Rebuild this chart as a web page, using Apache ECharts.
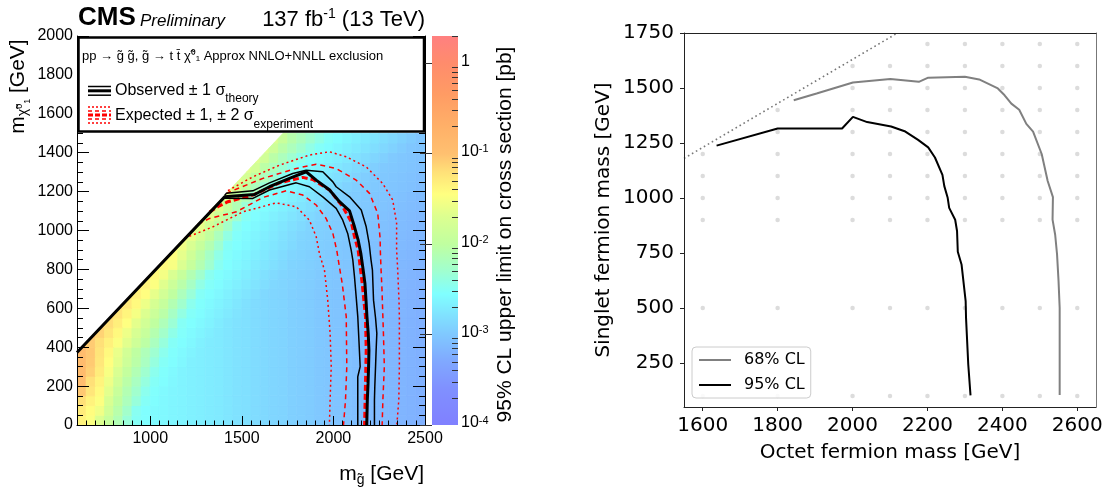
<!DOCTYPE html>
<html>
<head>
<meta charset="utf-8">
<script src="https://cdn.jsdelivr.net/npm/echarts@6/dist/echarts.min.js"></script>
<style>html,body{margin:0;padding:0;background:#fff}#c{width:1112px;height:488px}</style>
</head>
<body>
<div id="c"></div>
<script>
// ================= DATA =================
// Left panel: gluino / neutralino mass bins of the colour map (GeV)
const gluinoEdges = [600,650,700,750,800,850,900,950,1000,1050,1100,1150,1200,1250,1300,1350,1400,1450,1500,1550,1600,1650,1700,1750,1800,1850,1900,1950,2000,2050,2100,2150,2200,2250,2300,2350,2400,2450,2500];
const neutralinoEdges = [0,50,100,150,200,250,300,350,400,450,500,550,600,650,700,750,800,850,900,950,1000,1050,1100,1150,1200,1250,1300,1350,1400,1450,1500];
// log10 of the 95% CL upper limit [pb]; one row per neutralino bin (bottom to top).
// Each row lists the cells that lie below the kinematic edge; it ends at the last gluino bin (2450-2500).
const limitRows = [
 [-1.35,-1.48,-1.7,-1.92,-2.13,-2.35,-2.5,-2.55,-2.58,-2.6,-2.62,-2.64,-2.66,-2.68,-2.7,-2.72,-2.75,-2.78,-2.8,-2.83,-2.86,-2.88,-2.9,-2.93,-2.95,-2.97,-3.0,-3.02,-3.04,-3.06,-3.08,-3.1,-3.12,-3.14,-3.16,-3.18,-3.2,-3.22],
 [-1.3,-1.43,-1.56,-1.82,-2.07,-2.27,-2.48,-2.55,-2.58,-2.6,-2.62,-2.64,-2.66,-2.68,-2.7,-2.72,-2.75,-2.78,-2.8,-2.83,-2.86,-2.88,-2.9,-2.93,-2.95,-2.97,-3.0,-3.02,-3.04,-3.06,-3.08,-3.1,-3.12,-3.14,-3.16,-3.18,-3.2,-3.22],
 [-1.2,-1.35,-1.47,-1.74,-2.0,-2.18,-2.36,-2.51,-2.56,-2.6,-2.62,-2.64,-2.66,-2.68,-2.7,-2.72,-2.75,-2.78,-2.8,-2.83,-2.86,-2.88,-2.9,-2.93,-2.95,-2.97,-3.0,-3.02,-3.04,-3.06,-3.08,-3.1,-3.12,-3.14,-3.16,-3.18,-3.2,-3.22],
 [-1.05,-1.25,-1.41,-1.65,-1.91,-2.12,-2.29,-2.46,-2.54,-2.59,-2.62,-2.64,-2.66,-2.68,-2.7,-2.72,-2.75,-2.78,-2.8,-2.83,-2.86,-2.88,-2.9,-2.93,-2.95,-2.97,-3.0,-3.02,-3.04,-3.06,-3.08,-3.1,-3.12,-3.14,-3.16,-3.18,-3.2,-3.22],
 [-0.95,-1.2,-1.36,-1.57,-1.82,-2.05,-2.21,-2.38,-2.51,-2.56,-2.61,-2.64,-2.66,-2.68,-2.7,-2.72,-2.75,-2.78,-2.8,-2.83,-2.86,-2.88,-2.9,-2.93,-2.95,-2.97,-3.0,-3.02,-3.04,-3.06,-3.08,-3.1,-3.12,-3.14,-3.16,-3.18,-3.2,-3.22],
 [-0.9,-1.1,-1.3,-1.5,-1.73,-1.96,-2.13,-2.3,-2.46,-2.54,-2.59,-2.64,-2.66,-2.68,-2.7,-2.72,-2.75,-2.78,-2.8,-2.83,-2.86,-2.88,-2.9,-2.93,-2.95,-2.97,-3.0,-3.02,-3.04,-3.06,-3.08,-3.1,-3.12,-3.14,-3.16,-3.18,-3.2,-3.22],
 [-0.9,-1.06,-1.26,-1.44,-1.64,-1.86,-2.05,-2.21,-2.38,-2.51,-2.56,-2.61,-2.66,-2.68,-2.7,-2.72,-2.75,-2.78,-2.8,-2.83,-2.86,-2.88,-2.9,-2.93,-2.95,-2.97,-3.0,-3.02,-3.04,-3.06,-3.08,-3.1,-3.12,-3.14,-3.16,-3.18,-3.2,-3.22],
 [-0.92,-1.05,-1.23,-1.4,-1.6,-1.81,-2.01,-2.16,-2.31,-2.46,-2.54,-2.59,-2.64,-2.68,-2.7,-2.72,-2.75,-2.78,-2.8,-2.83,-2.86,-2.88,-2.9,-2.93,-2.95,-2.97,-3.0,-3.02,-3.04,-3.06,-3.08,-3.1,-3.12,-3.14,-3.16,-3.18,-3.2,-3.22],
 [-0.95,-1.07,-1.2,-1.34,-1.48,-1.66,-1.85,-2.03,-2.2,-2.37,-2.51,-2.56,-2.61,-2.66,-2.7,-2.72,-2.75,-2.78,-2.8,-2.83,-2.86,-2.88,-2.9,-2.93,-2.95,-2.97,-3.0,-3.02,-3.04,-3.06,-3.08,-3.1,-3.12,-3.14,-3.16,-3.18,-3.2,-3.22],
 [-1.02,-1.12,-1.26,-1.4,-1.57,-1.75,-1.93,-2.1,-2.27,-2.43,-2.53,-2.58,-2.63,-2.68,-2.72,-2.75,-2.78,-2.8,-2.83,-2.86,-2.88,-2.9,-2.93,-2.95,-2.97,-3.0,-3.02,-3.04,-3.06,-3.08,-3.1,-3.12,-3.14,-3.16,-3.18,-3.2,-3.22],
 [-1.1,-1.19,-1.32,-1.46,-1.64,-1.82,-2.0,-2.16,-2.33,-2.5,-2.55,-2.6,-2.65,-2.7,-2.75,-2.78,-2.8,-2.83,-2.86,-2.88,-2.9,-2.93,-2.95,-2.97,-3.0,-3.02,-3.04,-3.06,-3.08,-3.1,-3.12,-3.14,-3.16,-3.18,-3.2,-3.22],
 [-1.15,-1.24,-1.37,-1.52,-1.7,-1.88,-2.05,-2.23,-2.4,-2.52,-2.57,-2.62,-2.67,-2.72,-2.77,-2.8,-2.83,-2.86,-2.88,-2.9,-2.93,-2.95,-2.97,-3.0,-3.02,-3.04,-3.06,-3.08,-3.1,-3.12,-3.14,-3.16,-3.18,-3.2,-3.22],
 [-1.2,-1.28,-1.41,-1.58,-1.76,-1.94,-2.12,-2.29,-2.46,-2.54,-2.59,-2.64,-2.69,-2.74,-2.79,-2.83,-2.86,-2.88,-2.9,-2.93,-2.95,-2.97,-3.0,-3.02,-3.04,-3.06,-3.08,-3.1,-3.12,-3.14,-3.16,-3.18,-3.2,-3.22],
 [-1.25,-1.33,-1.44,-1.62,-1.81,-2.0,-2.18,-2.35,-2.51,-2.56,-2.61,-2.66,-2.71,-2.76,-2.81,-2.86,-2.88,-2.9,-2.93,-2.95,-2.97,-3.0,-3.02,-3.04,-3.06,-3.08,-3.1,-3.12,-3.14,-3.16,-3.18,-3.2,-3.22],
 [-1.3,-1.36,-1.47,-1.67,-1.87,-2.06,-2.23,-2.41,-2.52,-2.57,-2.62,-2.67,-2.72,-2.77,-2.82,-2.87,-2.89,-2.92,-2.94,-2.96,-2.99,-3.01,-3.03,-3.05,-3.07,-3.09,-3.11,-3.13,-3.15,-3.17,-3.19,-3.21],
 [-1.34,-1.4,-1.53,-1.73,-1.93,-2.12,-2.29,-2.47,-2.54,-2.59,-2.64,-2.69,-2.74,-2.79,-2.84,-2.88,-2.91,-2.93,-2.95,-2.98,-3.0,-3.02,-3.04,-3.06,-3.08,-3.1,-3.12,-3.14,-3.16,-3.18,-3.2],
 [-1.39,-1.42,-1.5,-1.71,-1.92,-2.11,-2.3,-2.48,-2.55,-2.6,-2.65,-2.7,-2.75,-2.8,-2.85,-2.9,-2.92,-2.94,-2.97,-2.99,-3.01,-3.03,-3.05,-3.07,-3.09,-3.11,-3.13,-3.15,-3.17,-3.19],
 [-1.42,-1.45,-1.63,-1.84,-2.05,-2.24,-2.42,-2.53,-2.58,-2.63,-2.68,-2.73,-2.78,-2.83,-2.88,-2.91,-2.93,-2.96,-2.98,-3.0,-3.02,-3.04,-3.06,-3.08,-3.1,-3.12,-3.14,-3.16,-3.18],
 [-1.45,-1.55,-1.73,-1.92,-2.11,-2.31,-2.5,-2.55,-2.6,-2.65,-2.7,-2.75,-2.8,-2.85,-2.9,-2.92,-2.95,-2.97,-2.99,-3.01,-3.03,-3.05,-3.07,-3.09,-3.11,-3.13,-3.15,-3.17],
 [-1.48,-1.59,-1.78,-1.97,-2.18,-2.4,-2.53,-2.58,-2.63,-2.68,-2.73,-2.78,-2.83,-2.88,-2.91,-2.94,-2.96,-2.98,-3.0,-3.02,-3.04,-3.06,-3.08,-3.1,-3.12,-3.14,-3.16],
 [-1.5,-1.62,-1.82,-2.03,-2.25,-2.48,-2.55,-2.6,-2.65,-2.7,-2.75,-2.8,-2.85,-2.9,-2.93,-2.95,-2.97,-2.99,-3.01,-3.03,-3.05,-3.07,-3.09,-3.11,-3.13,-3.15],
 [-1.54,-1.66,-1.87,-2.08,-2.3,-2.5,-2.56,-2.61,-2.66,-2.71,-2.76,-2.81,-2.86,-2.91,-2.94,-2.96,-2.98,-3.0,-3.02,-3.04,-3.06,-3.08,-3.1,-3.12,-3.14],
 [-1.56,-1.69,-1.92,-2.13,-2.33,-2.51,-2.56,-2.61,-2.66,-2.71,-2.76,-2.81,-2.86,-2.91,-2.94,-2.96,-2.98,-3.0,-3.02,-3.04,-3.06,-3.08,-3.1,-3.12],
 [-1.59,-1.73,-1.97,-2.16,-2.35,-2.51,-2.56,-2.61,-2.66,-2.71,-2.76,-2.81,-2.86,-2.91,-2.95,-2.97,-2.99,-3.01,-3.03,-3.05,-3.07,-3.09,-3.11],
 [-1.62,-1.76,-2.01,-2.18,-2.35,-2.5,-2.56,-2.61,-2.66,-2.71,-2.76,-2.81,-2.86,-2.91,-2.95,-2.97,-2.99,-3.01,-3.03,-3.05,-3.07,-3.09],
 [-1.65,-1.79,-2.02,-2.18,-2.33,-2.48,-2.55,-2.6,-2.65,-2.7,-2.75,-2.8,-2.85,-2.9,-2.95,-2.98,-3.0,-3.02,-3.04,-3.06,-3.08],
 [-1.67,-1.81,-2.04,-2.18,-2.32,-2.46,-2.54,-2.59,-2.64,-2.69,-2.74,-2.79,-2.84,-2.89,-2.94,-2.98,-3.0,-3.02,-3.04,-3.06],
 [-1.69,-1.83,-2.05,-2.18,-2.31,-2.44,-2.53,-2.58,-2.63,-2.68,-2.73,-2.78,-2.83,-2.88,-2.93,-2.98,-3.01,-3.03,-3.05],
 [-1.7,-1.86,-2.06,-2.18,-2.3,-2.42,-2.52,-2.57,-2.62,-2.67,-2.72,-2.77,-2.82,-2.87,-2.92,-2.97,-3.01,-3.03],
 [-1.71,-1.9,-2.08,-2.19,-2.31,-2.42,-2.52,-2.57,-2.62,-2.67,-2.72,-2.77,-2.82,-2.87,-2.92,-2.97,-3.02]
];
// kinematic edge of the scanned region (gluino, neutralino)
const kinematicEdge = [[600,375],[1725,1500]];

// exclusion contours (gluino mass, neutralino mass)
const observedCentral = [[600,373],[1406,1173],[1569,1185],[1651,1225],[1760,1268],[1851,1302],[1906,1259],[1979,1208],[2033,1148],[2088,1101],[2115,1019],[2135,951],[2150,880],[2162,800],[2172,728],[2178,640],[2183,557],[2190,470],[2194,385],[2192,300],[2189,214],[2185,128],[2183,43],[2182,0]];
const observedPlus = [[1406,1180],[1415,1191],[1560,1204],[1651,1245],[1778,1293],[1851,1310],[1942,1302],[1997,1250],[2015,1225],[2088,1173],[2152,1105],[2179,1019],[2195,934],[2205,850],[2213,796],[2219,642],[2230,550],[2237,471],[2233,380],[2230,300],[2226,200],[2224,128],[2224,0]];
const observedMinus = [[1406,1166],[1560,1165],[1651,1208],[1797,1245],[1869,1225],[1942,1173],[2015,1114],[2051,1053],[2078,985],[2097,899],[2106,848],[2115,762],[2125,650],[2133,557],[2140,420],[2146,300],[2133,248],[2133,128],[2133,0]];
const expectedCentral = [[1324,1095],[1369,1122],[1424,1148],[1560,1182],[1706,1245],[1833,1273],[1887,1262],[1979,1208],[2051,1122],[2097,1045],[2115,968],[2135,899],[2157,728],[2175,557],[2179,385],[2175,214],[2170,0]];
const expectedPlus1 = [[1415,1190],[1433,1199],[1615,1268],[1797,1319],[1906,1341],[2015,1319],[2124,1259],[2197,1191],[2242,1088],[2255,960],[2256,899],[2260,800],[2265,700],[2273,471],[2278,300],[2270,128],[2266,0]];
const expectedMinus1 = [[1260,1032],[1324,1062],[1470,1096],[1615,1170],[1742,1204],[1833,1182],[1906,1131],[1960,1062],[1997,985],[2018,899],[2035,800],[2048,728],[2070,557],[2073,300],[2066,128],[2055,0]];
const expectedPlus2 = [[1424,1205],[1560,1276],[1706,1336],[1869,1388],[1978,1405],[2070,1379],[2179,1327],[2269,1242],[2324,1156],[2345,1037],[2345,900],[2351,796],[2358,640],[2360,557],[2360,300],[2357,128],[2346,0]];
const expectedMinus2 = [[1188,960],[1342,1019],[1506,1096],[1688,1142],[1797,1122],[1869,1053],[1906,968],[1925,875],[1951,797],[1969,642],[1982,471],[1988,300],[1982,128],[1978,0]];

// axis ticks
const gluinoMajorTicks = [1000,1500,2000,2500];
const colorbarMajorTicks = [0.0001,0.001,0.01,0.1,1];
const colorbarMinorTicks = [0.0002,0.0003,0.0004,0.0005,0.0006,0.0007,0.0008,0.0009,0.002,0.003,0.004,0.005,0.006,0.007,0.008,0.009,0.02,0.03,0.04,0.05,0.06,0.07,0.08,0.09,0.2,0.3,0.4,0.5,0.6,0.7,0.8,0.9,2];

// Right panel
const octetTicks = [1600,1800,2000,2200,2400,2600];
const singletTicks = [250,500,750,1000,1250,1500,1750];
const cl68 = [[1843,1444],[1904,1475],[2001,1525],[2101,1541],[2177,1528],[2202,1547],[2300,1551],[2338,1539],[2388,1498],[2406,1467],[2424,1429],[2445,1401],[2464,1337],[2482,1302],[2505,1200],[2521,1077],[2535,1004],[2534,902],[2541,833],[2546,744],[2550,622],[2553,500],[2553,105]];
const cl95 = [[1637,1238],[1800,1316],[1972,1316],[2001,1369],[2039,1345],[2103,1325],[2141,1302],[2175,1264],[2202,1230],[2220,1184],[2240,1105],[2245,1054],[2254,1001],[2258,955],[2274,901],[2279,850],[2281,756],[2291,698],[2302,531],[2303,455],[2309,242],[2315,103]];
const scanRows = [
  {singlet:1700, octet:[2200,2300,2400,2500,2600]},
  {singlet:1600, octet:[2000,2100,2200,2300,2400,2500,2600]},
  {singlet:1500, octet:[2000,2100,2200,2300,2400,2500,2600]},
  {singlet:1400, octet:[1800,2000,2100,2200,2300,2400,2500,2600]},
  {singlet:1300, octet:[1800,2000,2100,2200,2300,2400,2500,2600]},
  {singlet:1200, octet:[1600,1800,2000,2100,2200,2300,2400,2500,2600]},
  {singlet:1100, octet:[1600,1800,2000,2100,2200,2300,2400,2500,2600]},
  {singlet:1000, octet:[1600,1800,2000,2100,2200,2300,2400,2500,2600]},
  {singlet:900, octet:[1600,1800,2000,2100,2200,2300,2400,2500,2600]},
  {singlet:500, octet:[1600,1800,2000,2100,2200,2300,2400,2500,2600]},
  {singlet:100, octet:[1600,1800,2000,2100,2200,2300,2400,2500,2600]}
];
const kinematicLine = [[1550,1180],[2120,1750]];

// ================= STYLE =================
const ROOT = '"Liberation Sans", Arial, sans-serif';
const MPL = '"DejaVu Sans", sans-serif';
const paletteStops = [
  [-4.0,'#8080ff'],[-3.6,'#8090ff'],[-3.3,'#80a8ff'],[-3.0,'#80c8ff'],[-2.8,'#80e0ff'],
  [-2.55,'#80ffff'],[-2.3,'#a0ffd0'],[-2.0,'#c0ffa0'],[-1.7,'#dcff90'],[-1.45,'#ffff80'],
  [-1.2,'#ffe078'],[-1.0,'#ffc070'],[-0.7,'#ffb068'],[-0.35,'#ff9c64'],[0,'#ff8c6c'],[0.302,'#ff8080']
];
const LOG_MIN = -4, LOG_MAX = Math.log10(2);
function hex2rgb(h){return [parseInt(h.substr(1,2),16),parseInt(h.substr(3,2),16),parseInt(h.substr(5,2),16)];}
function colorAt(v){
  if (v <= paletteStops[0][0]) return paletteStops[0][1];
  for (let k=1;k<paletteStops.length;k++){
    if (v <= paletteStops[k][0]){
      const a=paletteStops[k-1], b=paletteStops[k];
      const t=(v-a[0])/(b[0]-a[0]);
      const ca=hex2rgb(a[1]), cb=hex2rgb(b[1]);
      return 'rgb('+ca.map((c,i)=>Math.round(c+(cb[i]-c)*t)).join(',')+')';
    }
  }
  return paletteStops[paletteStops.length-1][1];
}
const plain = v => String(v);

// build heat cells
const nCols = gluinoEdges.length-1;
const heatCells = [];
limitRows.forEach((row,j)=>{
  const off = nCols - row.length;
  row.forEach((v,k)=>{
    const i = off+k;
    heatCells.push([gluinoEdges[i],gluinoEdges[i+1],neutralinoEdges[j],neutralinoEdges[j+1],v]);
  });
});

function clipBelowEdge(pts){
  const [[ax,ay],[bx,by]] = kinematicEdge;
  const g = p => (by-ay)*(p[0]-ax) - (bx-ax)*(p[1]-ay);
  const out=[];
  for (let i=0;i<pts.length;i++){
    const P=pts[i], Q=pts[(i+1)%pts.length];
    const fp=g(P), fq=g(Q);
    if (fp>=0) out.push(P);
    if ((fp>=0)!==(fq>=0)){
      const t=fp/(fp-fq);
      out.push([P[0]+t*(Q[0]-P[0]), P[1]+t*(Q[1]-P[1])]);
    }
  }
  return out;
}

const scanPoints = [];
scanRows.forEach(r=>r.octet.forEach(o=>scanPoints.push([o,r.singlet])));

const redLine = (data, width, type) => ({
  type:'line', data, xAxisIndex:0, yAxisIndex:0, symbol:'none', silent:true, clip:true, z:3,
  lineStyle:{color:'#ff0000', width, type}
});
const blackLine = (data, width) => ({
  type:'line', data, xAxisIndex:0, yAxisIndex:0, symbol:'none', silent:true, clip:true, z:4,
  lineStyle:{color:'#000000', width}
});

const cbStops = paletteStops.slice().reverse().map(s=>({
  offset: Math.min(1, Math.max(0, (LOG_MAX - s[0])/(LOG_MAX-LOG_MIN))), color: s[1]
}));

// rich-text token helper: all tokens aligned to the top, shifted down by padding
const tok = (size, pad) => ({fontSize:size, lineHeight:size, verticalAlign:'top', padding:[pad,0,0,0], fontFamily:ROOT, color:'#000'});

const chart = echarts.init(document.getElementById('c'), null, {renderer:'canvas', width:1112, height:488});
const option = {
  animation:false,
  backgroundColor:'#ffffff',
  grid:[
    {left:77, top:36, width:348, height:389, containLabel:false, outerBoundsMode:'none'},
    {left:432, top:36, width:26, height:389, containLabel:false, outerBoundsMode:'none'},
    {left:684, top:33, width:412, height:374, containLabel:false, outerBoundsMode:'none'}
  ],
  xAxis:[
    {gridIndex:0, type:'value', min:600, max:2500, position:'bottom', z:10,
     axisLine:{show:true,onZero:false,lineStyle:{color:'#000',width:1}},
     axisTick:{show:true,inside:true,length:9,customValues:gluinoMajorTicks,lineStyle:{color:'#000'}},
     axisLabel:{show:true,customValues:gluinoMajorTicks,formatter:plain,margin:6,color:'#000',fontSize:16,fontFamily:ROOT},
     splitLine:{show:false}},
    {gridIndex:0, type:'value', min:600, max:2500, interval:50, position:'bottom', z:10,
     axisLine:{show:false,onZero:false}, axisTick:{show:true,inside:true,length:4.5,lineStyle:{color:'#000'}},
     axisLabel:{show:false}, splitLine:{show:false}},
    {gridIndex:1, type:'value', min:0, max:1, show:false},
    {gridIndex:2, type:'value', min:1550, max:2650, position:'bottom', z:10,
     axisLine:{show:true,onZero:false,lineStyle:{color:'#222',width:1}},
     axisTick:{show:true,inside:false,length:4,customValues:octetTicks,lineStyle:{color:'#222'}},
     axisLabel:{show:true,customValues:octetTicks,formatter:plain,margin:9,color:'#000',fontSize:20,fontFamily:MPL},
     splitLine:{show:false}},
    {gridIndex:2, type:'value', min:1550, max:2650, position:'top', z:10,
     axisLine:{show:true,onZero:false,lineStyle:{color:'#222',width:1}},
     axisTick:{show:false}, axisLabel:{show:false}, splitLine:{show:false}}
  ],
  yAxis:[
    {gridIndex:0, type:'value', min:0, max:2000, interval:200, position:'left', z:10,
     axisLine:{show:true,onZero:false,lineStyle:{color:'#000',width:1}},
     axisTick:{show:true,inside:true,length:12,lineStyle:{color:'#000'}},
     minorTick:{show:true,splitNumber:4,length:6,lineStyle:{color:'#000'}},
     axisLabel:{show:true,formatter:plain,margin:4,color:'#000',fontSize:16,fontFamily:ROOT},
     splitLine:{show:false}, minorSplitLine:{show:false}},
    {gridIndex:0, type:'value', min:0, max:2000, interval:200, position:'right', z:10,
     axisLine:{show:true,onZero:false,lineStyle:{color:'#000',width:1}},
     axisTick:{show:true,inside:true,length:12,lineStyle:{color:'#000'}},
     minorTick:{show:true,splitNumber:4,length:6,lineStyle:{color:'#000'}},
     axisLabel:{show:false}, splitLine:{show:false}, minorSplitLine:{show:false}},
    {gridIndex:1, type:'log', min:0.0001, max:2, position:'right', z:10,
     axisLine:{show:false},
     axisTick:{show:true,inside:true,length:12,customValues:colorbarMajorTicks,lineStyle:{color:'#333'}},
     axisLabel:{show:true,customValues:colorbarMajorTicks,margin:3,
       formatter:function(v){const e=Math.round(Math.log10(v)); return e===0?'{b|1}':'{b|10}{s|'+e+'}';},
       rich:{b:{fontSize:16,lineHeight:20,verticalAlign:'top',fontFamily:ROOT,color:'#000'},
             s:{fontSize:11,lineHeight:10,verticalAlign:'top',fontFamily:ROOT,color:'#000'}}},
     splitLine:{show:false}},
    {gridIndex:1, type:'log', min:0.0001, max:2, position:'right', z:10,
     axisLine:{show:false},
     axisTick:{show:true,inside:true,length:6,customValues:colorbarMinorTicks,lineStyle:{color:'#333'}},
     axisLabel:{show:false}, splitLine:{show:false}},
    {gridIndex:2, type:'value', min:50, max:1750, position:'left', z:10,
     axisLine:{show:true,onZero:false,lineStyle:{color:'#222',width:1}},
     axisTick:{show:true,inside:false,length:4,customValues:singletTicks,lineStyle:{color:'#222'}},
     axisLabel:{show:true,customValues:singletTicks,formatter:plain,margin:10,color:'#000',fontSize:20,fontFamily:MPL},
     splitLine:{show:false}},
    {gridIndex:2, type:'value', min:50, max:1750, position:'right', z:10,
     axisLine:{show:true,onZero:false,lineStyle:{color:'#777',width:1}},
     axisTick:{show:false}, axisLabel:{show:false}, splitLine:{show:false}}
  ],
  legend:{
    show:true, data:['68% CL','95% CL'], orient:'vertical', left:692, top:347,
    padding:[4,6,4,7], itemGap:7, itemWidth:32, itemHeight:2, icon:'rect', selectedMode:false,
    textStyle:{fontFamily:MPL,fontSize:16,color:'#000',lineHeight:18,padding:[0,0,0,8]},
    backgroundColor:'rgba(255,255,255,0.85)', borderColor:'#cccccc', borderWidth:1, borderRadius:4
  },
  series:[
    {type:'custom', xAxisIndex:0, yAxisIndex:0, data:heatCells, silent:true, clip:true, z:1,
     encode:{x:[0,1], y:[2,3]},
     renderItem:function(params, api){
       const x0=api.value(0), x1=api.value(1), y0=api.value(2), y1=api.value(3), v=api.value(4);
       const poly = clipBelowEdge([[x0,y0],[x1,y0],[x1,y1],[x0,y1]]);
       if (poly.length<3) return {type:'group', children:[]};
       const c = colorAt(v);
       return {type:'polygon', shape:{points:poly.map(p=>api.coord(p))}, style:{fill:c, stroke:c, lineWidth:0.8}};
     }},
    redLine(expectedMinus2, 1.5, [2,3]),
    redLine(expectedPlus2, 1.5, [2,3]),
    redLine(expectedMinus1, 1.5, [5,4]),
    redLine(expectedPlus1, 1.5, [5,4]),
    redLine(expectedCentral, 3, [6,3]),
    blackLine(observedMinus, 1.5),
    blackLine(observedPlus, 1.5),
    blackLine(observedCentral, 3),
    {type:'custom', xAxisIndex:2, yAxisIndex:2, data:[[0,0.0001,1,2]], silent:true, z:1,
     encode:{x:[0,2], y:[1,3]},
     renderItem:function(params, api){
       const p0=api.coord([api.value(0),api.value(1)]);
       const p1=api.coord([api.value(2),api.value(3)]);
       return {type:'rect', shape:{x:p0[0], y:p1[1], width:p1[0]-p0[0], height:p0[1]-p1[1]},
               style:{fill:new echarts.graphic.LinearGradient(0,0,0,1,cbStops)}};
     }},
    {type:'scatter', xAxisIndex:3, yAxisIndex:4, data:scanPoints, symbolSize:4.5, silent:true, z:2,
     itemStyle:{color:'#d3d3d3'}},
    {type:'line', xAxisIndex:3, yAxisIndex:4, data:kinematicLine, symbol:'none', silent:true, clip:true, z:3,
     lineStyle:{color:'#777777', width:1.6, type:[1.6,3]}},
    {type:'line', name:'68% CL', xAxisIndex:3, yAxisIndex:4, data:cl68, symbol:'none', silent:true, z:4,
     color:'#808080', itemStyle:{color:'#808080'}, lineStyle:{color:'#808080', width:2}},
    {type:'line', name:'95% CL', xAxisIndex:3, yAxisIndex:4, data:cl95, symbol:'none', silent:true, z:4,
     color:'#000000', itemStyle:{color:'#000000'}, lineStyle:{color:'#000000', width:2}}
  ],
  graphic:{elements:[
    // legend box of the left panel
    {type:'rect', z:100, shape:{x:78.5, y:37.5, width:345.5, height:94}, style:{fill:'#ffffff', stroke:'#000', lineWidth:2.5}},
    {type:'text', z:101, x:82, y:56.5, style:{text:'pp \u2192 g\u0303 g\u0303, g\u0303 \u2192 t t\u0304 \u03c7\u0303\u2070\u2081 Approx NNLO+NNLL exclusion', font:'13px '+ROOT, fill:'#000', verticalAlign:'middle', align:'left'}},
    {type:'line', z:101, shape:{x1:88, y1:86.5, x2:111, y2:86.5}, style:{stroke:'#000', lineWidth:1.5}},
    {type:'line', z:101, shape:{x1:88, y1:90.8, x2:111, y2:90.8}, style:{stroke:'#000', lineWidth:3}},
    {type:'line', z:101, shape:{x1:88, y1:95.2, x2:111, y2:95.2}, style:{stroke:'#000', lineWidth:1.5}},
    {type:'line', z:101, shape:{x1:88, y1:107, x2:111, y2:107}, style:{stroke:'#ff0000', lineWidth:1.5, lineDash:[2,2]}},
    {type:'line', z:101, shape:{x1:88, y1:111, x2:111, y2:111}, style:{stroke:'#ff0000', lineWidth:1.5, lineDash:[4,3]}},
    {type:'line', z:101, shape:{x1:88, y1:115, x2:111, y2:115}, style:{stroke:'#ff0000', lineWidth:3, lineDash:[5,2]}},
    {type:'line', z:101, shape:{x1:88, y1:119, x2:111, y2:119}, style:{stroke:'#ff0000', lineWidth:1.5, lineDash:[4,3]}},
    {type:'line', z:101, shape:{x1:88, y1:123, x2:111, y2:123}, style:{stroke:'#ff0000', lineWidth:1.5, lineDash:[2,2]}},
    {type:'text', z:101, x:115, y:82.8, style:{text:'{b|Observed \u00b1 1 \u03c3}{s|theory}', align:'left', verticalAlign:'top',
      rich:{b:tok(16,0), s:tok(12,10)}}},
    {type:'text', z:101, x:115, y:107.3, style:{text:'{b|Expected \u00b1 1, \u00b1 2 \u03c3}{s|experiment}', align:'left', verticalAlign:'top',
      rich:{b:tok(16,0), s:tok(12,11)}}},
    // header
    {type:'text', z:101, x:78, y:17.6, style:{text:'CMS', font:'bold 26px '+ROOT, fill:'#000', align:'left', verticalAlign:'middle'}},
    {type:'text', z:101, x:140, y:21, style:{text:'Preliminary', font:'italic 17px '+ROOT, fill:'#000', align:'left', verticalAlign:'middle'}},
    {type:'text', z:101, x:425, y:4.7, style:{text:'{a|137 fb}{p|-1}{a| (13 TeV)}', align:'right', verticalAlign:'top',
      rich:{a:tok(22,4), p:tok(14,2.5)}}},
    // axis titles, left panel
    {type:'text', z:101, x:8, y:86.5, rotation:Math.PI/2, style:{text:'{b|m}{s|\u03c7\u0303}{u|0}{d|1}{b| [GeV]}', align:'center', verticalAlign:'top',
      rich:{b:tok(21,0), s:tok(14,8.5), u:tok(9,7), d:tok(9,15)}}},
    {type:'text', z:101, x:424, y:463.5, style:{text:'{b|m}{s|g\u0303}{b| [GeV]}', align:'right', verticalAlign:'top',
      rich:{b:tok(21,0), s:tok(14,9.5)}}},
    {type:'text', z:101, x:505, y:234.5, rotation:Math.PI/2, style:{text:'95% CL upper limit on cross section [pb]', font:'21px '+ROOT, fill:'#000', align:'center', verticalAlign:'middle'}},
    // axis titles, right panel
    {type:'text', z:101, x:890, y:453, style:{text:'Octet fermion mass [GeV]', font:'20px '+MPL, fill:'#000', align:'center', verticalAlign:'middle'}},
    {type:'text', z:101, x:604, y:220, rotation:Math.PI/2, style:{text:'Singlet fermion mass [GeV]', font:'20px '+MPL, fill:'#000', align:'center', verticalAlign:'middle'}}
  ]}
};
chart.setOption(option);
</script>
</body>
</html>
